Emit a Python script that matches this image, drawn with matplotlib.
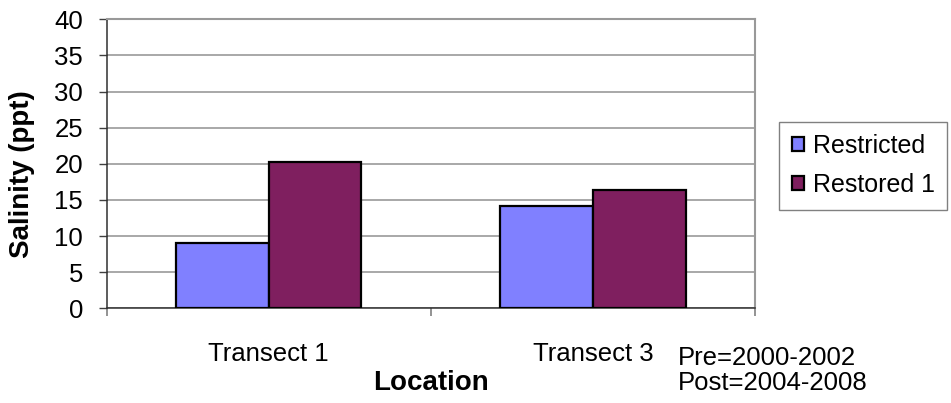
import matplotlib
matplotlib.use("Agg")
import matplotlib.pyplot as plt
import numpy as np

categories = ["Transect 1", "Transect 3"]
series_names = ["Restricted", "Restored 1"]
restricted = [9.1, 14.2]
restored = [20.3, 16.4]
yticks = [0, 5, 10, 15, 20, 25, 30, 35, 40]

plt.rcParams['font.family'] = ['Liberation Sans', 'DejaVu Sans']

fig = plt.figure(figsize=(9.51, 4.03), dpi=100)
ax = fig.add_axes([106.7/951, 1-308.3/403, (755-106.7)/951, (308.3-19.3)/403])

x = np.arange(len(categories))
w = 0.286
ax.bar(x - w/2, restricted, w, color='#8080FF', edgecolor='black', linewidth=1.6, label=series_names[0], zorder=3)
ax.bar(x + w/2, restored, w, color='#7F1F5F', edgecolor='black', linewidth=1.6, label=series_names[1], zorder=3)

ax.set_xlim(-0.5, 1.5)
ax.set_ylim(0, 40)
ax.set_yticks(yticks)
ax.yaxis.grid(True, color='#999999', linewidth=1.2, zorder=0)
ax.tick_params(axis='y', direction='out', length=6, width=1, color='#404040', pad=11, labelsize=18.5)
ax.set_xticks(x)
ax.set_xticklabels(categories)
ax.tick_params(axis='x', which='major', length=0, pad=24, labelsize=18.5)
ax.set_xticks([-0.5, 0.5, 1.5], minor=True)
ax.tick_params(axis='x', which='minor', direction='out', length=6, width=1.2, color='#808080')

for s in ['top', 'right']:
    ax.spines[s].set_color('#999999')
    ax.spines[s].set_linewidth(1.5)
for s in ['left', 'bottom']:
    ax.spines[s].set_color('#303030')
    ax.spines[s].set_linewidth(1.1)

ax.set_xlabel("Location", fontsize=20, fontweight='bold', labelpad=3)
fig.text(22.5/951, 1-174/403, "Salinity (ppt)", rotation=90, ha='center', va='center',
         fontsize=20, fontweight='bold')

leg = fig.legend(loc='upper left', bbox_to_anchor=(779/951, 1-121.7/403), fontsize=18,
                 frameon=True, fancybox=False, edgecolor='#808080', framealpha=1,
                 handlelength=0.5, handleheight=0.5, handletextpad=0.35,
                 labelspacing=0.6, borderpad=0.5, borderaxespad=0)
leg.get_frame().set_linewidth(1)

fig.text(678/951, 1-365/403, "Pre=2000-2002", fontsize=18.5, ha='left', va='baseline')
fig.text(678/951, 1-390/403, "Post=2004-2008", fontsize=18.5, ha='left', va='baseline')

fig.savefig("out.png", dpi=100)
